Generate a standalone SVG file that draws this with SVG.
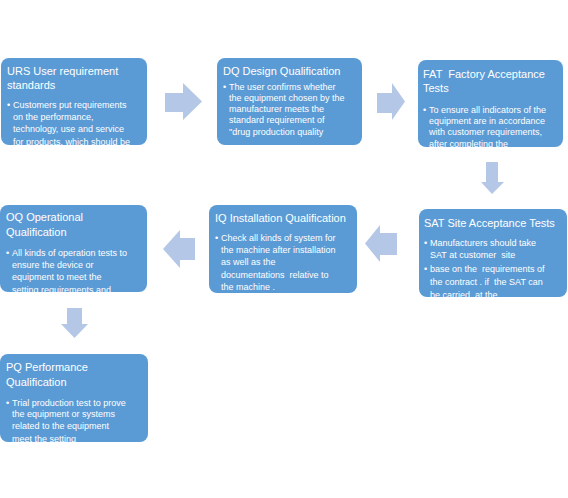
<svg xmlns="http://www.w3.org/2000/svg" width="568" height="498" viewBox="0 0 568 498">
<style>
.box{fill:#5B9BD5;}
.arrow{fill:#B4C7E7;}
.t{font-family:"Liberation Sans",Arial,sans-serif;font-size:11px;fill:#fff;}
.b{font-family:"Liberation Sans",Arial,sans-serif;font-size:9px;fill:#fff;}
</style>
<defs>
<clipPath id="c1"><rect x="1" y="58" width="146" height="87" rx="8"/></clipPath>
<clipPath id="c2"><rect x="217" y="58" width="145" height="87" rx="8"/></clipPath>
<clipPath id="c3"><rect x="418" y="60" width="145" height="87" rx="8"/></clipPath>
<clipPath id="c4"><rect x="419" y="209" width="148" height="88" rx="8"/></clipPath>
<clipPath id="c5"><rect x="209" y="205" width="148" height="88" rx="8"/></clipPath>
<clipPath id="c6"><rect x="0" y="205" width="147" height="87" rx="8"/></clipPath>
<clipPath id="c7"><rect x="0" y="354" width="148" height="88" rx="8"/></clipPath>
</defs>
<rect width="568" height="498" fill="#fff"/>
<g id="connectors">
<polygon class="arrow" points="165,93 183,93 183,83 202,101.5 183,120 183,112 165,112"/>
<polygon class="arrow" points="377,93 392,93 392,83 405,101.5 392,120 392,113 377,113"/>
<polygon class="arrow" points="486,162 498,162 498,182 504,182 492,194 481,182 486,182"/>
<polygon class="arrow" points="397,233 380,233 380,225 365,243.5 380,262 380,255 397,255"/>
<polygon class="arrow" points="195,238 180,238 180,230 163,249 180,268 180,260 195,260"/>
<polygon class="arrow" points="67,308 82,308 82,324 88,324 74.5,338 61,324 67,324"/>
</g>
<g id="urs">
<rect class="box" x="1" y="58" width="146" height="87" rx="8"/>
<g clip-path="url(#c1)">
<text class="t" x="7" y="75">URS User requirement</text>
<text class="t" x="7" y="89">standards</text>
<text class="b" x="7" y="108">•</text>
<text class="b" x="13" y="108">Customers put requirements</text>
<text class="b" x="13" y="120">on the performance,</text>
<text class="b" x="13" y="132">technology, use and service</text>
<text class="b" x="13" y="145">for products, which should be</text>
</g>
</g>
<g id="dq">
<rect class="box" x="217" y="58" width="145" height="87" rx="8"/>
<g clip-path="url(#c2)">
<text class="t" x="223" y="75">DQ Design Qualification</text>
<text class="b" x="223" y="90">•</text>
<text class="b" x="229" y="90">The user confirms whether</text>
<text class="b" x="229" y="101">the equipment chosen by the</text>
<text class="b" x="229" y="112">manufacturer meets the</text>
<text class="b" x="229" y="123">standard requirement of</text>
<text class="b" x="229" y="135">"drug production quality</text>
</g>
</g>
<g id="fat">
<rect class="box" x="418" y="60" width="145" height="87" rx="8"/>
<g clip-path="url(#c3)">
<text class="t" x="423" y="78" xml:space="preserve">FAT  Factory Acceptance</text>
<text class="t" x="423" y="92">Tests</text>
<text class="b" x="423" y="113">•</text>
<text class="b" x="429" y="113">To ensure all indicators of the</text>
<text class="b" x="429" y="124">equipment are in accordance</text>
<text class="b" x="429" y="135">with customer requirements,</text>
<text class="b" x="429" y="147">after completing the</text>
</g>
</g>
<g id="sat">
<rect class="box" x="419" y="209" width="148" height="88" rx="8"/>
<g clip-path="url(#c4)">
<text class="t" x="424" y="227">SAT Site Acceptance Tests</text>
<text class="b" x="424" y="246">•</text>
<text class="b" x="430" y="246">Manufacturers should take</text>
<text class="b" x="430" y="258" xml:space="preserve">SAT at customer  site</text>
<text class="b" x="424" y="272">•</text>
<text class="b" x="430" y="272" xml:space="preserve">base on the  requirements of</text>
<text class="b" x="430" y="285" xml:space="preserve">the contract . if  the SAT can</text>
<text class="b" x="430" y="298" xml:space="preserve">be carried  at the</text>
</g>
</g>
<g id="iq">
<rect class="box" x="209" y="205" width="148" height="88" rx="8"/>
<g clip-path="url(#c5)">
<text class="t" x="215" y="222">IQ Installation Qualification</text>
<text class="b" x="215" y="241">•</text>
<text class="b" x="221" y="241">Check all kinds of system for</text>
<text class="b" x="221" y="253">the machine after installation</text>
<text class="b" x="221" y="265">as well as the</text>
<text class="b" x="221" y="278" xml:space="preserve">documentations  relative to</text>
<text class="b" x="221" y="290">the machine .</text>
</g>
</g>
<g id="oq">
<rect class="box" x="0" y="205" width="147" height="87" rx="8"/>
<g clip-path="url(#c6)">
<text class="t" x="6" y="221">OQ Operational</text>
<text class="t" x="6" y="236">Qualification</text>
<text class="b" x="6" y="256">•</text>
<text class="b" x="12" y="256">All kinds of operation tests to</text>
<text class="b" x="12" y="268">ensure the device or</text>
<text class="b" x="12" y="280">equipment to meet the</text>
<text class="b" x="12" y="293">setting requirements and</text>
</g>
</g>
<g id="pq">
<rect class="box" x="0" y="354" width="148" height="88" rx="8"/>
<g clip-path="url(#c7)">
<text class="t" x="6" y="371">PQ Performance</text>
<text class="t" x="6" y="386">Qualification</text>
<text class="b" x="6" y="406">•</text>
<text class="b" x="12" y="406">Trial production test to prove</text>
<text class="b" x="12" y="417">the equipment or systems</text>
<text class="b" x="12" y="429">related to the equipment</text>
<text class="b" x="12" y="442">meet the setting</text>
</g>
</g>
</svg>
